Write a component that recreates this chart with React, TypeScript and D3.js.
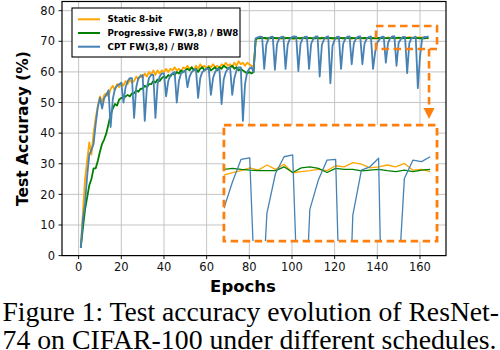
import React from "react";
import * as d3 from "d3";

// ---------- data ----------
const epochs = d3.range(1, 165);

const staticAcc = [
  3, 14, 25, 31, 37, 33, 40, 45, 49, 52,
  50, 52.5, 53, 52, 54.5, 55.5, 54, 56, 55, 56.5,
  55.5, 57, 56, 57.5, 56.5, 57, 58.5, 57.5, 59, 58,
  59.5, 58.5, 60, 59, 60.5, 59, 60.5, 59.5, 60.5, 60,
  61, 60, 61, 60.5, 61.5, 60.5, 61, 60, 61.5, 61,
  62, 61, 61.5, 60.5, 62, 61, 62.5, 61.5, 62, 61,
  62, 61.5, 62.5, 61.5, 62, 61, 62.5, 62, 63, 62,
  62.5, 61.5, 63, 62, 63.5, 62.5, 63, 62, 63, 62.5,
  62, 61.5,
  70.8, 71.1, 70.9, 71.2, 71.0, 70.8, 71.1, 70.9,
  71.2, 71.0, 70.9, 71.1, 70.8, 71.0, 71.2, 70.9, 71.1, 71.0,
  70.8, 71.1, 71.0, 70.9, 71.2, 71.0, 70.8, 71.1, 71.0, 70.9,
  71.1, 71.0, 70.8, 71.2, 71.0, 70.9, 71.1, 71.0, 70.8, 71.1,
  71.0, 70.9, 71.2, 71.0, 70.9, 71.1, 71.0, 70.8, 71.1, 71.0,
  70.9, 71.2, 71.0, 70.9, 71.1, 71.0, 70.8, 71.1, 70.9,
  70.86, 70.95, 71.03, 71.14, 71.05, 71.25, 71.08, 71.28, 70.95, 70.99,
  71.03, 71.08, 71.03, 71.22, 71.18, 71.34, 71.28, 71.14, 71.18, 71.25,
  71.18, 71.31, 71.05, 71.08, 70.99,
];

const progressiveAcc = [
  2.5, 9, 15, 19, 23, 25, 28.5, 28.5, 31, 34,
  36.5, 38, 40, 43, 46, 48, 49.5, 49, 51, 51.5,
  51.5, 52, 52.5, 52, 53, 53, 54, 53.5, 54.5, 54.5,
  55.5, 55, 56, 56, 57, 56.5, 57.5, 57, 58, 58.5,
  58, 59, 58.5, 59.5, 59, 60, 59.5, 60.5, 60, 60.5,
  61, 60.5, 61.5, 60.5, 61, 60, 61, 61.5, 60.5, 61,
  61.5, 60.5, 61, 61.5, 60.5, 61.5, 61, 62, 61.5, 61,
  61.5, 62, 61, 61.5, 60.5, 61, 60.5, 60, 59.5, 60,
  59.5, 60,
  70.6, 71.0, 71.1, 71.0, 71.1, 71.0, 71.05, 71.1,
  71.0, 71.1, 71.05, 71.0, 71.1, 71.05, 71.0, 71.1, 71.05, 71.0,
  71.0, 71.1, 71.05, 71.0, 71.1, 71.05, 71.0, 71.1, 71.05, 71.0,
  71.0, 71.1, 71.05, 71.0, 71.1, 71.05, 71.0, 71.1, 71.05, 71.0,
  71.0, 71.1, 71.05, 71.0, 71.1, 71.05, 71.0, 71.1, 71.05, 71.0,
  71.1, 71.0, 71.05, 71.1, 71.0, 71.05, 71.1, 71.0, 71.05,
  71.08, 71.12, 71.08, 71.05, 71.03, 71.03, 71.03, 71.18, 70.96, 71.14,
  71.18, 71.12, 70.96, 71.12, 71.08, 71.08, 71.02, 71.05, 71.08, 71.03,
  70.99, 71.05, 70.99, 71.05, 71.08,
];

const cptAcc = [
  2.5, 12, 17, 26, 33, 34.5, 36.5, 43, 48.5, 51.5,
  48, 51.5, 52.5, 54, 42, 51, 54.5, 55.5, 56, 56.5,
  50, 55, 57, 58, 58, 45, 55, 58, 58.5, 59,
  44, 55, 58, 59, 59, 45, 56, 58.5, 59.5, 59.5,
  52, 57, 59, 59.5, 60, 50, 57, 59.5, 60, 60.5,
  55, 58.5, 60, 60.5, 61, 51.5, 58, 60, 60.5, 61,
  61, 52.5, 58, 60, 61, 61, 49.5, 57.5, 60, 61,
  61.5, 52.5, 58, 60.5, 61.5, 61.5, 44, 56, 60, 61,
  61.5, 60,
  71, 71.3, 71.5, 71.4, 61, 69, 70.8, 71.4,
  71.5, 60.7, 69.2, 70.8, 71.4, 71.5, 61, 69, 70.8, 71.4,
  71.6, 71.5, 60.3, 69.2, 70.9, 71.4, 71.5, 61, 69.2, 70.8,
  71.5, 71.6, 58.5, 68.8, 70.6, 71.4, 71.6, 56.3, 68.5, 70.5,
  71.4, 71.5, 61, 69.2, 70.8, 71.5, 71.6, 62.5, 69.3, 70.9,
  71.5, 71.6, 62.5, 69.2, 70.8, 71.4, 71.6, 61, 66.5,
  69.57, 70.6, 71.47, 71.53, 63, 69.37, 70.92, 71.57, 71.64, 62,
  69.53, 70.68, 71.44, 71.47, 59.6, 69.31, 71.05, 71.18, 71.51, 54.7,
  65, 70.73, 71.44, 71.38, 71.57,
];

const seriesNames = ["Static 8-bit", "Progressive FW(3,8) / BW8", "CPT FW(3,8) / BW8"];
const seriesColors = ["#FFA500", "#008000", "#4682B4"];
const xTicks = [0, 20, 40, 60, 80, 100, 120, 140, 160];
const yTicks = [0, 10, 20, 30, 40, 50, 60, 70, 80];
const xTitle = "Epochs";
const yTitle = "Test Accuracy (%)";
const captionLines = [
  "Figure 1: Test accuracy evolution of ResNet-",
  "74 on CIFAR-100 under different schedules.",
];
// zoomed window (data units) and where the inset sits (data units of main axes)
const zoomWindow = { x0: 139.4, x1: 168, y0: 67.5, y1: 75 };
const insetPlace = { x0: 68.1, x1: 168, y0: 4.75, y1: 42.65 };
const insetDomainX = [140, 164.8];
const insetDomainY = [68.3, 72.8];

export default function App() {
  const W = 500;
  const H = 350;
  const L = 62, R = 446, T = 1.5, B = 255.6;
  const x = d3.scaleLinear().domain([-7.8, 172.2]).range([L, R]);
  const y = d3.scaleLinear().domain([0, 83]).range([B, T]);

  const series = [staticAcc, progressiveAcc, cptAcc];
  const mainLine = (vals: number[]) =>
    d3.line<number>().x((_, i) => x(epochs[i])).y((d) => y(d))(vals) || "";

  // inset
  const ix0 = x(insetPlace.x0), ix1 = x(insetPlace.x1);
  const iy0 = y(insetPlace.y1), iy1 = y(insetPlace.y0);
  const ixs = d3.scaleLinear().domain(insetDomainX).range([ix0, ix1]);
  const iys = d3.scaleLinear().domain(insetDomainY).range([iy1, iy0]);
  const insetIdx = epochs.map((e, i) => i).filter((i) => epochs[i] >= insetDomainX[0]);
  const insetLine = (vals: number[]) =>
    d3.line<number>().x((i) => ixs(epochs[i])).y((i) => iys(vals[i]))(insetIdx) || "";

  const zx0 = x(zoomWindow.x0), zx1 = x(zoomWindow.x1);
  const zy0 = y(zoomWindow.y1), zy1 = y(zoomWindow.y0);
  const connX = zx1 - 8;
  const arrowTip = iy0 - 6;

  const dash = "7.5,4.5";
  const annColor = "#FF7F0E";
  const font = "DejaVu Sans, sans-serif";

  return (
    <div style={{ position: "absolute", left: 0, top: 0 }}>
      <svg width={W} height={H} xmlns="http://www.w3.org/2000/svg" style={{ display: "block", background: "#fff" }}>
        <defs>
          <clipPath id="mainClip">
            <rect x={L} y={T} width={R - L} height={B - T} />
          </clipPath>
          <clipPath id="insetClip">
            <rect x={ix0} y={iy0} width={ix1 - ix0} height={iy1 - iy0} />
          </clipPath>
        </defs>
        {/* grid */}
        {xTicks.map((t) => (
          <line key={"gx" + t} x1={x(t)} x2={x(t)} y1={T} y2={B} stroke="#c4c4c4" strokeWidth={1} />
        ))}
        {yTicks.map((t) => (
          <line key={"gy" + t} x1={L} x2={R} y1={y(t)} y2={y(t)} stroke="#c4c4c4" strokeWidth={1} />
        ))}
        {/* series */}
        <g clipPath="url(#mainClip)">
          {series.map((s, k) => (
            <path key={k} d={mainLine(s)} fill="none" stroke={seriesColors[k]} strokeWidth={1.8} strokeLinejoin="round" />
          ))}
        </g>
        {/* spines */}
        <rect x={L} y={T} width={R - L} height={B - T} fill="none" stroke="#000" strokeWidth={1.2} />
        {/* ticks */}
        {xTicks.map((t) => (
          <g key={"tx" + t}>
            <line x1={x(t)} x2={x(t)} y1={B} y2={B + 3.5} stroke="#000" strokeWidth={0.9} />
            <text x={x(t)} y={B + 15.5} textAnchor="middle" fontFamily={font} fontSize={11.5} fill="#111">{t}</text>
          </g>
        ))}
        {yTicks.map((t) => (
          <g key={"ty" + t}>
            <line x1={L - 3.5} x2={L} y1={y(t)} y2={y(t)} stroke="#000" strokeWidth={0.9} />
            <text x={L - 7} y={y(t)} dy="0.36em" textAnchor="end" fontFamily={font} fontSize={11.5} fill="#111">{t}</text>
          </g>
        ))}
        {/* axis titles */}
        <text x={243} y={292} textAnchor="middle" fontFamily={font} fontWeight="bold" fontSize={16.5}>{xTitle}</text>
        <text transform={`translate(27.5,${(T + B) / 2}) rotate(-90)`} textAnchor="middle" fontFamily={font} fontWeight="bold" fontSize={15.5}>{yTitle}</text>

        {/* zoom window & connector */}
        <rect x={zx0} y={zy0} width={zx1 - zx0} height={zy1 - zy0} fill="none" stroke={annColor} strokeWidth={2.6} strokeDasharray={dash} />
        <line x1={connX} x2={connX} y1={zy1} y2={arrowTip - 10} stroke={annColor} strokeWidth={2.6} strokeDasharray={dash} />
        <path d={`M${connX - 5.5},${arrowTip - 11}L${connX + 5.5},${arrowTip - 11}L${connX},${arrowTip}Z`} fill={annColor} />

        {/* inset */}
        <rect x={ix0} y={iy0} width={ix1 - ix0} height={iy1 - iy0} fill="#fff" />
        <g clipPath="url(#insetClip)">
          {series.map((s, k) => (
            <path key={"i" + k} d={insetLine(s)} fill="none" stroke={seriesColors[k]} strokeWidth={1.3} strokeLinejoin="round" />
          ))}
        </g>
        <rect x={ix0} y={iy0} width={ix1 - ix0} height={iy1 - iy0} fill="none" stroke={annColor} strokeWidth={2.8} strokeDasharray={dash} />

        {/* legend */}
        <rect x={72} y={8} width={168} height={49} fill="#fff" stroke="#000" strokeWidth={1.1} />
        {seriesNames.map((n, k) => (
          <g key={"lg" + k}>
            <line x1={78} x2={100} y1={19.3 + k * 13.7} y2={19.3 + k * 13.7} stroke={seriesColors[k]} strokeWidth={2} />
            <text x={107.5} y={19.3 + k * 13.7} dy="0.36em" fontFamily={font} fontWeight="bold" fontSize={8.7}>{n}</text>
          </g>
        ))}

        {/* caption */}
        {captionLines.map((c, k) => (
          <text key={"cap" + k} x={2.5} y={320.5 + k * 28.3} fontFamily="Liberation Serif, Times New Roman, serif" fontSize={27.5}
            textLength={k === 0 ? 496.5 : 494} lengthAdjust="spacingAndGlyphs">{c}</text>
        ))}
      </svg>
    </div>
  );
}
